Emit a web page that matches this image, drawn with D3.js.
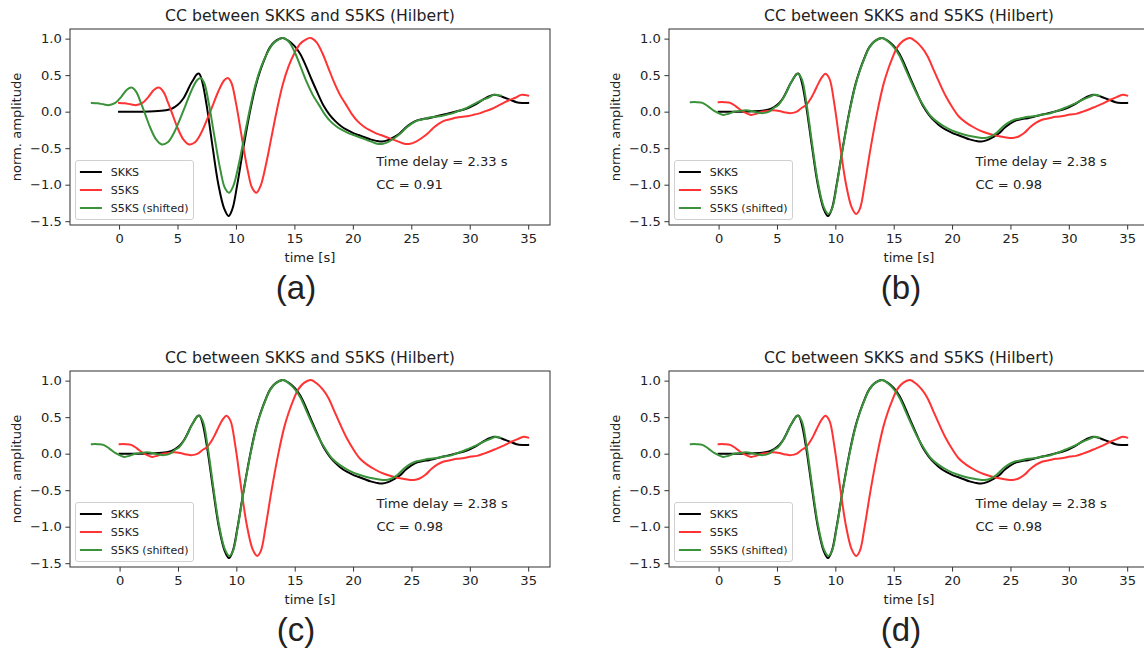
<!DOCTYPE html>
<html><head><meta charset="utf-8">
<script src="https://cdn.jsdelivr.net/npm/d3@7"></script>
<style>body{margin:0;background:#fff}svg{display:block}</style>
</head><body>
<svg id="chart" width="1144" height="656"></svg>
<script>
// ---------- data ----------
const panelLabels = ["(a)", "(b)", "(c)", "(d)"];
const timeDelays = [2.33, 2.38, 2.38, 2.38];
const ccValues = [0.91, 0.98, 0.98, 0.98];
const seriesNames = ["SKKS", "S5KS", "S5KS (shifted)"];
const titleText = "CC between SKKS and S5KS (Hilbert)";
const xTickValues = [0, 5, 10, 15, 20, 25, 30, 35];
const yTickValues = [-1.5, -1.0, -0.5, 0.0, 0.5, 1.0];

// SKKS (same trace in all panels)
const skksTime = [0,1,2,3,4,4.5,5,5.5,5.8,6.1,6.4,6.65,6.85,7.1,7.5,8,8.5,9,9.37,9.7,10.1,10.6,11.2,11.7,12.1,12.5,12.9,13.4,14,14.5,15,15.5,16,16.5,17,17.5,18,18.5,19,19.5,20,20.5,21,21.5,22,22.5,23,23.5,24,24.5,25,25.5,26,26.5,27,27.5,28,28.5,29,29.5,30,30.5,31,31.5,32,32.5,33,33.5,34,34.5,35];
const skksAmp = [0,0,0,0.005,0.02,0.04,0.09,0.18,0.27,0.37,0.45,0.51,0.52,0.42,0.08,-0.48,-1.0,-1.33,-1.43,-1.33,-1.01,-0.53,0.0,0.36,0.57,0.74,0.88,0.97,1.01,0.97,0.9,0.79,0.62,0.43,0.25,0.08,-0.04,-0.13,-0.2,-0.25,-0.29,-0.32,-0.35,-0.38,-0.40,-0.41,-0.39,-0.35,-0.3,-0.22,-0.16,-0.12,-0.1,-0.09,-0.07,-0.05,-0.03,-0.01,0.01,0.03,0.06,0.1,0.15,0.2,0.23,0.22,0.19,0.16,0.13,0.12,0.12];

// S5KS, panel (a)
const s5ksTimeA = [0,0.5,1,1.5,2,2.5,3,3.4,3.8,4.2,4.6,5,5.5,6,6.5,7,7.5,8,8.5,9,9.3,9.6,10,10.5,11,11.4,11.75,12.1,12.6,13,13.5,14,14.5,15,15.5,16,16.4,16.9,17.4,17.9,18.4,18.9,19.4,19.9,20.4,20.9,21.4,21.9,22.4,22.9,23.4,23.9,24.4,24.9,25.4,25.9,26.4,26.9,27.4,27.9,28.4,28.9,29.4,29.9,30.4,30.9,31.4,31.9,32.4,32.9,33.4,33.9,34.4,35];
const s5ksAmpA = [0.12,0.115,0.1,0.09,0.12,0.2,0.3,0.33,0.27,0.12,-0.05,-0.22,-0.38,-0.45,-0.42,-0.3,-0.12,0.08,0.28,0.43,0.46,0.4,0.12,-0.35,-0.8,-1.05,-1.11,-1.02,-0.7,-0.38,0.02,0.37,0.62,0.8,0.93,0.99,1.01,0.95,0.8,0.6,0.4,0.23,0.1,-0.03,-0.13,-0.2,-0.25,-0.29,-0.32,-0.35,-0.38,-0.41,-0.44,-0.44,-0.41,-0.36,-0.3,-0.22,-0.16,-0.12,-0.1,-0.08,-0.07,-0.06,-0.04,-0.02,0.01,0.04,0.08,0.12,0.16,0.19,0.23,0.22];

// S5KS, panels (b), (c), (d)
const s5ksTimeB = [0,0.5,1,1.5,2,2.5,2.8,3.2,3.7,4.2,4.7,5.2,5.7,6.2,6.7,7.1,7.5,7.9,8.2,8.5,8.8,9.15,9.5,9.9,10.4,10.9,11.4,11.78,12.1,12.5,13,13.6,14.1,14.5,14.9,15.3,15.8,16.4,16.9,17.4,17.9,18.4,18.9,19.5,20.1,20.6,21.2,21.8,22.4,23.1,23.8,24.5,25.2,25.7,26.2,26.7,27.2,27.7,28.3,28.9,29.5,30.1,30.6,31.2,31.7,32.3,32.9,33.5,34.1,34.6,35];
const s5ksAmpB = [0.13,0.13,0.12,0.07,0.01,-0.03,-0.045,-0.03,0.0,0.01,0.02,0.01,-0.01,-0.02,0.0,0.05,0.09,0.18,0.27,0.37,0.46,0.52,0.45,0.12,-0.45,-0.98,-1.31,-1.40,-1.33,-1.01,-0.52,0.0,0.36,0.57,0.74,0.88,0.97,1.01,0.96,0.88,0.76,0.58,0.40,0.2,0.04,-0.07,-0.15,-0.21,-0.26,-0.30,-0.33,-0.35,-0.36,-0.34,-0.29,-0.21,-0.15,-0.11,-0.09,-0.07,-0.06,-0.04,-0.03,0.0,0.03,0.07,0.11,0.16,0.2,0.23,0.22];

const redTimes = [s5ksTimeA, s5ksTimeB, s5ksTimeB, s5ksTimeB];
const redAmps = [s5ksAmpA, s5ksAmpB, s5ksAmpB, s5ksAmpB];

// ---------- layout & style ----------
const W = 480, H = 196;
const origins = [[70, 29], [669, 29], [70, 371], [669, 371]];
const letterCenters = [296, 901, 296, 901];
const colors = ["#000000", "#ff3333", "#3a923a"];
const FONT = "'DejaVu Sans', sans-serif";
const annotX = 22, annotY1 = -0.75, annotY2 = -1.06;

const svg = d3.select("#chart");

panelLabels.forEach((lab, i) => {
  const [ox, oy] = origins[i];
  const delay = timeDelays[i];
  const black = skksTime.map((t, j) => [t, skksAmp[j]]);
  const red = redTimes[i].map((t, j) => [t, redAmps[i][j]]);
  const green = redTimes[i].map((t, j) => [t - delay, redAmps[i][j]]);
  const all = black.concat(red, green);
  const [x0, x1] = d3.extent(all, d => d[0]);
  const [y0, y1] = d3.extent(all, d => d[1]);
  const px = 0.05 * (x1 - x0), py = 0.05 * (y1 - y0);
  const x = d3.scaleLinear().domain([x0 - px, x1 + px]).range([0, W]);
  const y = d3.scaleLinear().domain([y0 - py, y1 + py]).range([H, 0]);

  const g = svg.append("g").attr("transform", `translate(${ox},${oy})`);
  const clipId = "clip" + i;
  g.append("clipPath").attr("id", clipId).append("rect").attr("width", W).attr("height", H);

  const line = d3.line().x(d => x(d[0])).y(d => y(d[1])).curve(d3.curveCatmullRom.alpha(0.5));
  const lines = g.append("g").attr("clip-path", `url(#${clipId})`);
  [black, red, green].forEach((s, k) => {
    lines.append("path").datum(s).attr("d", line)
      .attr("fill", "none").attr("stroke", colors[k]).attr("stroke-width", 2)
      .attr("stroke-linejoin", "round").attr("stroke-linecap", "square");
  });

  // axes
  const xa = g.append("g").attr("transform", `translate(0,${H})`)
    .call(d3.axisBottom(x).tickValues(xTickValues).tickSize(4.6).tickPadding(3.6).tickFormat(d3.format("d")));
  const ya = g.append("g")
    .call(d3.axisLeft(y).tickValues(yTickValues).tickSize(4.6).tickPadding(3.6).tickFormat(d3.format(".1f")));
  [xa, ya].forEach(a => {
    a.select(".domain").remove();
    a.selectAll("line").attr("stroke", "#333").attr("stroke-width", 1);
    a.selectAll("text").attr("font-family", FONT).attr("font-size", 13.1).attr("fill", "#222");
  });

  g.append("rect").attr("width", W).attr("height", H)
    .attr("fill", "none").attr("stroke", "#3a3a3a").attr("stroke-width", 1.05);

  // texts
  g.append("text").attr("x", W / 2).attr("y", -8).attr("text-anchor", "middle")
    .attr("font-family", FONT).attr("font-size", 15.7).attr("fill", "#222").text(titleText);
  g.append("text").attr("transform", `translate(-54,${H / 2}) rotate(-90)`)
    .attr("text-anchor", "middle").attr("dy", "0.35em")
    .attr("font-family", FONT).attr("font-size", 13.1).attr("fill", "#222").text("norm. amplitude");
  g.append("text").attr("x", W / 2).attr("y", H + 37).attr("text-anchor", "middle")
    .attr("font-family", FONT).attr("font-size", 13.1).attr("fill", "#222").text("time [s]");
  g.append("text").attr("x", x(annotX)).attr("y", y(annotY1))
    .attr("font-family", FONT).attr("font-size", 13.1).attr("fill", "#222")
    .text(`Time delay = ${delay.toFixed(2)} s`);
  g.append("text").attr("x", x(annotX)).attr("y", y(annotY2))
    .attr("font-family", FONT).attr("font-size", 13.1).attr("fill", "#222")
    .text(`CC = ${ccValues[i].toFixed(2)}`);

  // legend
  const lw = 118, lh = 59;
  const lg = g.append("g").attr("transform", `translate(5.5,${H - 5.5 - lh})`);
  lg.append("rect").attr("width", lw).attr("height", lh).attr("rx", 2.5)
    .attr("fill", "#fff").attr("fill-opacity", 0.8).attr("stroke", "#d0d0d0").attr("stroke-width", 1);
  seriesNames.forEach((n, k) => {
    const ry = 11.5 + 18 * k;
    lg.append("line").attr("x1", 4.4).attr("x2", 26.4).attr("y1", ry).attr("y2", ry)
      .attr("stroke", colors[k]).attr("stroke-width", 2);
    lg.append("text").attr("x", 35.2).attr("y", ry).attr("dy", "0.35em")
      .attr("font-family", FONT).attr("font-size", 11).attr("fill", "#222").text(n);
  });

  // panel letter
  svg.append("text").attr("x", letterCenters[i]).attr("y", oy + 270).attr("text-anchor", "middle")
    .attr("font-family", "'Liberation Sans', Arial, sans-serif").attr("font-size", 33).attr("fill", "#222").text(lab);
});
</script>
</body></html>
